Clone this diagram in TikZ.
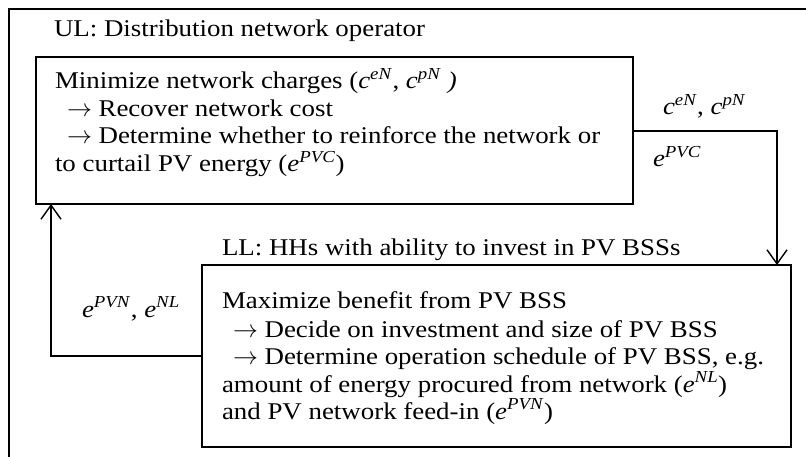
\documentclass[tikz,border=0pt]{standalone}
\usepackage{fontspec}
\setmainfont{Liberation Serif}[FakeStretch=1.12]
\usetikzlibrary{arrows.meta}
\newcommand{\sv}[2]{\textit{#1}\textsuperscript{\textit{#2}}}
\newcommand{\ra}{$\rightarrow$}
\begin{document}
\begin{tikzpicture}[x=1pt,y=-1pt,
  every node/.style={font=\fontsize{24}{27}\selectfont, inner sep=0pt, outer sep=0pt},
  lbox/.style={draw, line width=1.6pt, inner sep=0pt},
  conn/.style={line width=1.6pt, -{Straight Barb[length=14pt,width=20pt,line width=1.4pt]}},
  txt/.style={anchor=base west}
]
\useasboundingbox (0,0) rectangle (806,457);
% outer frame (clipped)
\coordinate (fa) at (9,470);
\coordinate (fb) at (9,9);
\coordinate (fc) at (820,9);
\draw[line width=1.6pt] (fa) -- (fb) -- (fc);
% titles
\node[txt] (ul) at (54,37) {UL: Distribution network operator};
\node[txt] (ll) at (222,255) {LL: HHs with ability to invest in PV BSSs};
% boxes
\node[lbox, anchor=north west, minimum width=597, minimum height=147] (b1) at (36,57) {};
\node[lbox, anchor=north west, minimum width=589, minimum height=182] (b2) at (202,265) {};
% box 1 text
\node[txt] (t11) at (55,89) {Minimize network charges (\sv{c}{eN}, \sv{c}{pN}\textit{ )}};
\node[txt] (t12) at (67,117) {\ra\ Recover network cost};
\node[txt] (t13) at (67,144) {\ra\ Determine whether to reinforce the network or};
\node[txt] (t14) at (55,172) {to curtail PV energy (\sv{e}{PVC})};
% box 2 text
\node[txt] (t21) at (222,308) {Maximize benefit from PV BSS};
\node[txt] (t22) at (233,337) {\ra\ Decide on investment and size of PV BSS};
\node[txt] (t23) at (233,364) {\ra\ Determine operation schedule of PV BSS, e.g.};
\node[txt] (t24) at (222,392) {amount of energy procured from network (\sv{e}{NL})};
\node[txt] (t25) at (222,419) {and PV network feed-in (\sv{e}{PVN})};
% connectors
\coordinate (r1) at (777,131);
\coordinate (l1) at (51,356);
\draw[conn] (b1.east |- r1) -- (r1) -- (b2.north -| r1);
\draw[conn] (b2.west |- l1) -- (l1) -- (b1.south -| l1);
% labels
\node[txt] (lab1) at (663,115) {\sv{c}{eN}, \sv{c}{pN}};
\node[txt] (lab2) at (653,167) {\sv{e}{PVC}};
\node[txt] (lab3) at (82,317) {\sv{e}{PVN}, \sv{e}{NL}};
\end{tikzpicture}
\end{document}
